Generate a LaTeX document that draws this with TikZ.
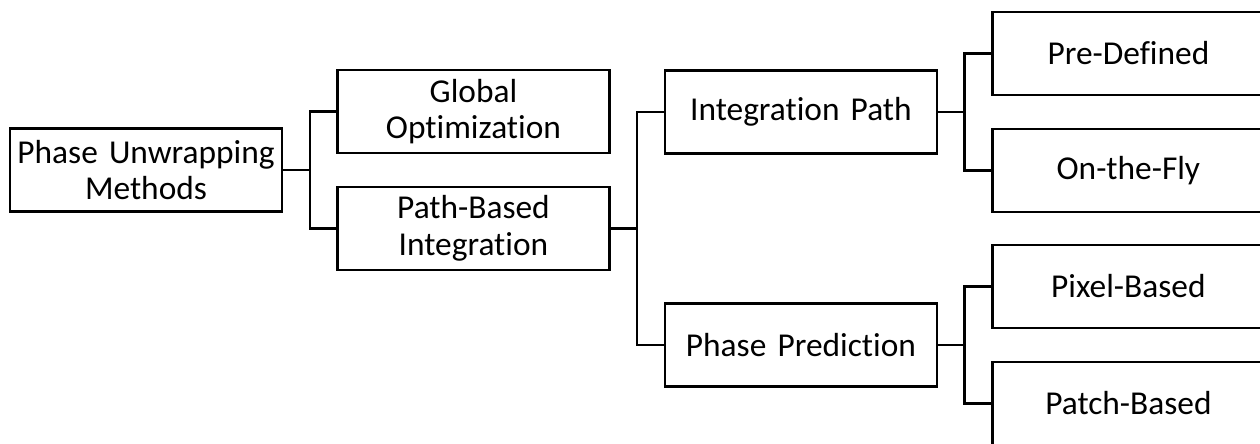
\documentclass[tikz,border=0pt]{standalone}
\usepackage{fontspec}
\setmainfont{Carlito}[Ligatures=NoCommon]
\usetikzlibrary{positioning}

\begin{document}
\begin{tikzpicture}[
  font=\fontsize{19}{20.8}\selectfont,
  branch/.style={draw, line width=1.4pt, align=center, text width=5.44cm,
                 minimum height=1.66cm, inner xsep=0pt, inner ysep=2pt},
  link/.style={line width=1.4pt}]

\useasboundingbox (-2.92,3.4) rectangle (22.28,-5.46);

\node[branch] (root) {Phase Unwrapping\\ Methods};

\node[branch, right=1.06cm of root, yshift=1.17cm] (glob) {Global\\ Optimization};
\node[branch, right=1.06cm of root, yshift=-1.17cm] (path) {Path-Based\\ Integration};

\node[branch, right=1.06cm of path, yshift=2.33cm] (intp) {Integration Path};
\node[branch, right=1.06cm of path, yshift=-2.33cm] (pred) {Phase Prediction};

\node[branch, right=1.06cm of intp, yshift=1.17cm] (predef) {Pre-Defined};
\node[branch, right=1.06cm of intp, yshift=-1.17cm] (onfly) {On-the-Fly};
\node[branch, right=1.06cm of pred, yshift=1.17cm] (pixel) {Pixel-Based};
\node[branch, right=1.06cm of pred, yshift=-1.17cm] (patch) {Patch-Based};

\draw[link] (root.east) -- ++(0.53,0) |- (glob.west);
\draw[link] (root.east) -- ++(0.53,0) |- (path.west);
\draw[link] (path.east) -- ++(0.53,0) |- (intp.west);
\draw[link] (path.east) -- ++(0.53,0) |- (pred.west);
\draw[link] (intp.east) -- ++(0.53,0) |- (predef.west);
\draw[link] (intp.east) -- ++(0.53,0) |- (onfly.west);
\draw[link] (pred.east) -- ++(0.53,0) |- (pixel.west);
\draw[link] (pred.east) -- ++(0.53,0) |- (patch.west);
\end{tikzpicture}
\end{document}
